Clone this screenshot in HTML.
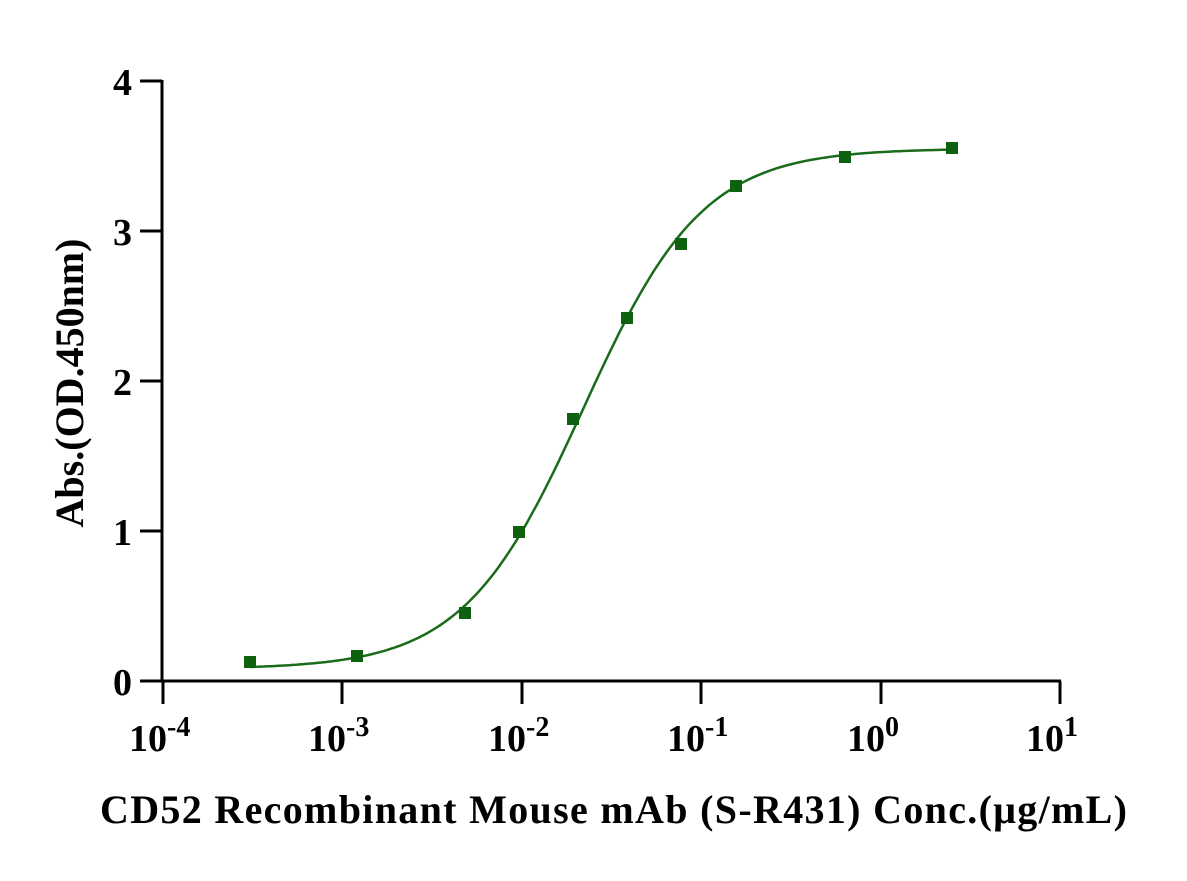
<!DOCTYPE html>
<html><head><meta charset="utf-8"><style>
body{margin:0;background:#fff;}
text{font-family:"Liberation Serif",serif;font-weight:bold;fill:#000;}
</style></head><body>
<svg id="s" width="1187" height="876" xmlns="http://www.w3.org/2000/svg">
<g stroke="#000" stroke-width="3" fill="none">
<line x1="162" y1="80" x2="162" y2="682"/>
<line x1="161" y1="681" x2="1061" y2="681"/>
<line x1="140" y1="81" x2="162" y2="81"/>
<line x1="140" y1="231" x2="162" y2="231"/>
<line x1="140" y1="381" x2="162" y2="381"/>
<line x1="140" y1="531" x2="162" y2="531"/>
<line x1="140" y1="681" x2="162" y2="681"/>
<line x1="163" y1="681" x2="163" y2="704"/>
<line x1="342" y1="681" x2="342" y2="704"/>
<line x1="522" y1="681" x2="522" y2="704"/>
<line x1="701" y1="681" x2="701" y2="704"/>
<line x1="881" y1="681" x2="881" y2="704"/>
<line x1="1060" y1="681" x2="1060" y2="704"/>
</g>
<g font-size="38" text-anchor="end">
<text x="132" y="95">4</text>
<text x="132" y="245">3</text>
<text x="132" y="395">2</text>
<text x="132" y="545">1</text>
<text x="132" y="695">0</text>
</g>
<g font-size="38" id="xt"></g>
<text x="100" y="823" font-size="40" textLength="1027" lengthAdjust="spacing">CD52 Recombinant Mouse mAb (S-R431) Conc.(μg/mL)</text>
<text transform="translate(83,383) rotate(-90)" font-size="40" text-anchor="middle">Abs.(OD.450nm)</text>
<path id="c" fill="none" stroke="#1a6b1a" stroke-width="2.5"/>
<g id="p" fill="#0e610e"></g>
</svg>
<script>
var X=function(c){return 163+(Math.log10(c)+4)*179.4;},Y=function(v){return 681-v*150;};
var f=function(c){return 0.08+3.47/(1+Math.pow(0.022/c,1.3));};
var d="";for(var l=Math.log10(0.000305);l<=Math.log10(2.5)+1e-9;l+=0.02){var c=Math.pow(10,l);d+=(d?"L":"M")+X(c).toFixed(1)+","+Y(f(c)).toFixed(1);}
document.getElementById("c").setAttribute("d",d);
var pts=[[250,662],[357,656],[465,613],[519,532],[573,419],[627,318],[681,244],[736,186],[845,157],[952,148]];
var g=document.getElementById("p"),h="";
pts.forEach(function(p){h+='<rect x="'+(p[0]-6)+'" y="'+(p[1]-6)+'" width="12" height="12"/>';});
g.innerHTML=h;
var xs=[163,342,522,701,881,1060],ex=["-4","-3","-2","-1","0","1"],t="";
xs.forEach(function(x,i){t+='<text x="'+(x-34)+'" y="751">10<tspan dy="-15" font-size="28">'+ex[i]+'</tspan></text>';});
document.getElementById("xt").innerHTML=t;
</script>
</body></html>
